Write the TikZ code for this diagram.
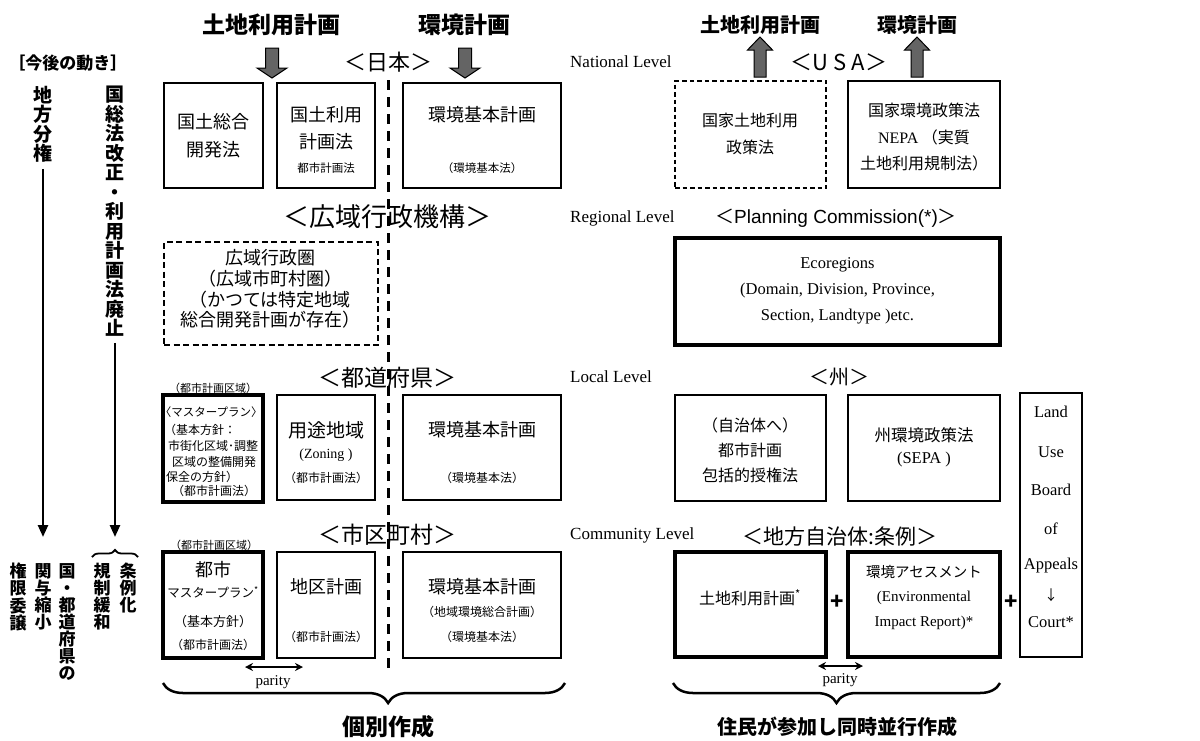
\documentclass[tikz,border=0pt]{standalone}
\usepackage{fontspec}
\setmainfont{Liberation Serif}
\newfontfamily\jp{Noto Sans CJK JP}
\newfontfamily\lsans{Liberation Sans}
\usetikzlibrary{arrows.meta,decorations.pathreplacing}
\definecolor{arrgray}{RGB}{100,100,100}
\newcommand\jpf[1]{\jp\mdseries\fontsize{#1}{#1}\selectfont}
\newcommand\jpb[1]{\jp\bfseries\fontsize{#1}{#1}\selectfont}
\newcommand\stf[1]{\rmfamily\fontsize{#1}{#1}\selectfont}
\tikzset{
  bx/.style={draw, line width=2.2pt, inner sep=0pt},
  tbx/.style={draw, line width=3.5pt, inner sep=0pt},
  dbx/.style={draw, line width=2.6pt, dash pattern=on 6pt off 3.5pt, inner sep=0pt},
  pbx/.style={draw, line width=2pt, dash pattern=on 4.5pt off 3pt, inner sep=0pt},
  jt/.style={font={\jpf{#1}}, inner sep=0pt},
  jb/.style={font={\jpb{#1}}, inner sep=0pt},
  st/.style={font={\stf{#1}}, inner sep=0pt},
  vt/.style={font={\jp\bfseries\fontsize{19}{19.5}\selectfont}, align=center, anchor=north, inner sep=0pt},
  vtb/.style={font={\jp\bfseries\fontsize{17}{17.1}\selectfont}, align=center, anchor=north, inner sep=0pt},
  varr/.style={line width=2.5pt, -{Triangle[width=10pt,length=12pt]}, shorten <=6pt},
  parr/.style={line width=1.8pt, {Stealth[length=8pt,width=8pt]}-{Stealth[length=8pt,width=8pt]}},
  garr/.style={fill=arrgray, draw=black, line width=1pt},
  brc/.style={decorate, line width=2.5pt},
  downarr/.pic={\draw[garr] (-6.5,48) -- (6.5,48) -- (6.5,68) -- (15,68) -- (0,78) -- (-15,68) -- (-6.5,68) -- cycle;},
  uparr/.pic={\draw[garr] (-6,77) -- (6,77) -- (6,50) -- (12.5,50) -- (0,37) -- (-12.5,50) -- (-6,50) -- cycle;}
}
\begin{document}
\begin{tikzpicture}[x=1pt,y=-1pt]
\useasboundingbox[fill=white] (0,0) rectangle (1200,740);

% ---------- headers ----------
\node[jb=23] (h1) at (271,25) {土地利用計画};
\node[jb=23] (h2) at (464,25) {環境計画};
\node[jb=20] (h3) at (760,25) {土地利用計画};
\node[jb=20] (h4) at (917,25) {環境計画};
\pic at (272,0) {downarr};
\pic at (465,0) {downarr};
\pic at (760,0) {uparr};
\pic at (917,0) {uparr};

% ---------- left column ----------
\node[jb=17] (ima) at (68,63) {［今後の動き］};
\node[vt] (v1) at (43,86) {地\\方\\分\\権};
\node[vt] (v2) at (115,86) {国\\総\\法\\改\\正\\・\\利\\用\\計\\画\\法\\廃\\止};
\coordinate (e1) at (43,537);
\coordinate (e2) at (115,537);
\draw[varr] (v1) -- (e1);
\draw[varr] (v2) -- (e2);
\coordinate (br1) at (92,557);
\coordinate (br2) at (138,557);
\draw[decorate, decoration={brace, amplitude=7pt}, line width=1.8pt] (br1) -- (br2);
\node[vtb] (b1) at (67,563) {国\\・\\都\\道\\府\\県\\の};
\node[vtb] (b2) at (43,563) {関\\与\\縮\\小};
\node[vtb] (b3) at (18,563) {権\\限\\委\\譲};
\node[vtb] (b4) at (128,563) {条\\例\\化};
\node[vtb] (b5) at (102,563) {規\\制\\緩\\和};

% ---------- Japan level titles ----------
\node[jt=22] (nihon) at (388,62) {＜日本＞};
\node[jt=26] (kouiki) at (387,217) {＜広域行政機構＞};
\node[jt=23] (todo) at (387,378) {＜都道府県＞};
\node[jt=23] (shiku) at (387,535) {＜市区町村＞};

% centre dashed line
\coordinate (d1) at (388,80);
\coordinate (d2) at (388,672);
\draw[line width=3pt, dash pattern=on 10pt off 7pt] (d1) -- (d2);

% ---------- Japan national ----------
\node[bx, minimum width=99pt, minimum height=105pt] (jA) at (213.5,135.5) {};
\node[jt=18] (jA1) at (213.5,122) {国土総合};
\node[jt=18] (jA2) at (213.5,150) {開発法};
\node[bx, minimum width=98pt, minimum height=105pt] (jB) at (326,135.5) {};
\node[jt=18] (jB1) at (326,115) {国土利用};
\node[jt=18] (jB2) at (326,142) {計画法};
\node[jt=11.5] (jB3) at (326,168) {都市計画法};
\node[bx, minimum width=158pt, minimum height=105pt] (jC) at (482,135.5) {};
\node[jt=18] (jC1) at (482,115) {環境基本計画};
\node[jt=11.5] (jC2) at (482,168) {（環境基本法）};

% ---------- Japan regional ----------
\node[dbx, minimum width=214pt, minimum height=103pt] (jD) at (271,293.5) {};
\node[inner sep=0pt, align=center, font={\jp\fontsize{18}{20.7}\selectfont}] (jD1) at (270,289) {広域行政圏\\（広域市町村圏）\\（かつては特定地域\\総合開発計画が存在）};

% ---------- Japan prefecture ----------
\node[jt=11] (ku1) at (213,388) {（都市計画区域）};
\node[tbx, minimum width=100pt, minimum height=107pt] (jE) at (213,448.5) {};
\node[jt=11.5] (jE1) at (214,412) {\hspace{-5.5pt}〈マスタープラン〉\hspace{-5.5pt}};
\node[jt=12, anchor=west] (jE2) at (164,430) {（基本方針：};
\node[jt=12] (jE3) at (213,446) {市街化区域･調整};
\node[jt=12] (jE4) at (214,462) {区域の整備開発};
\node[jt=12, anchor=west] (jE5) at (166,477) {保全の方針）};
\node[jt=12] (jE6) at (214,491) {（都市計画法）};
\node[bx, minimum width=98pt, minimum height=105pt] (jF) at (326,447.5) {};
\node[jt=19] (jF1) at (326,430) {用途地域};
\node[st=14] (jF2) at (326,455) {(Zoning )};
\node[jt=12] (jF3) at (326,478) {（都市計画法）};
\node[bx, minimum width=158pt, minimum height=105pt] (jG) at (482,447.5) {};
\node[jt=18] (jG1) at (482,430) {環境基本計画};
\node[jt=12] (jG2) at (482,478) {（環境基本法）};

% ---------- Japan municipal ----------
\node[jt=11] (ku2) at (214,545) {（都市計画区域）};
\node[tbx, minimum width=100pt, minimum height=106pt] (jH) at (213,605) {};
\node[jt=18] (jH1) at (213,570) {都市};
\node[jt=12.5] (jH2) at (213,592) {マスタープラン\textsuperscript{*}};
\node[jt=13] (jH3) at (213,622) {（基本方針）};
\node[jt=12] (jH4) at (213,645) {（都市計画法）};
\node[bx, line width=2.4pt, minimum width=98pt, minimum height=106pt] (jI) at (326,605) {};
\node[jt=18] (jI1) at (326,587) {地区計画};
\node[jt=12] (jI2) at (326,637) {（都市計画法）};
\node[bx, line width=2.4pt, minimum width=158pt, minimum height=106pt] (jJ) at (482,605) {};
\node[jt=18] (jJ1) at (482,587) {環境基本計画};
\node[jt=12] (jJ2) at (482,612) {（地域環境総合計画）};
\node[jt=12] (jJ3) at (482,637) {（環境基本法）};

\coordinate (pa1) at (245,667);
\coordinate (pa2) at (303,667);
\draw[parr] (pa1) -- (pa2);
\node[st=15] (par1) at (273,682) {parity};

\coordinate (bL1) at (163,683);
\coordinate (bL2) at (565,683);
\draw[brc, decoration={brace, amplitude=20pt, aspect=0.56, mirror}] (bL1) -- (bL2);
\node[jb=23] (kobetsu) at (388,727) {個別作成};

% ---------- level labels ----------
\node[st=17, anchor=west] (lv1) at (570,62) {National Level};
\node[st=17, anchor=west] (lv2) at (570,218) {Regional Level};
\node[st=17, anchor=west] (lv3) at (570,377) {Local Level};
\node[st=17, anchor=west] (lv4) at (570,535) {Community Level};

% ---------- USA titles ----------
\node[jt=22] (usa) at (839,62) {＜U S A＞};
\node[jt=19] (pc) at (836,218) {＜{\lsans Planning Commission(*)}＞};
\node[jt=20] (shu) at (839,377) {＜州＞};
\node[jt=21] (chiho) at (840,537) {＜地方自治体:条例＞};

% ---------- USA national ----------
\node[pbx, minimum width=151pt, minimum height=107pt] (uA) at (750.5,134.5) {};
\node[jt=16] (uA1) at (750,120) {国家土地利用};
\node[jt=16] (uA2) at (750,147) {政策法};
\node[bx, line width=2pt, minimum width=152pt, minimum height=107pt] (uB) at (924,134.5) {};
\node[jt=16] (uB1) at (924,110) {国家環境政策法};
\node[jt=16] (uB2) at (924,137) {{\rmfamily NEPA} （実質};
\node[jt=16] (uB3) at (924,163) {土地利用規制法）};

% ---------- USA regional ----------
\node[tbx, minimum width=325pt, minimum height=107pt] (uC) at (837.5,291.5) {};
\node[inner sep=0pt, align=center, font={\rmfamily\fontsize{16.5}{26}\selectfont}] (uC1) at (837.5,291) {Ecoregions\\(Domain, Division, Province,\\Section, Landtype )etc.};

% ---------- USA state ----------
\node[bx, line width=2pt, minimum width=151pt, minimum height=106pt] (uD) at (750.5,448) {};
\node[inner sep=0pt, align=center, font={\jp\fontsize{16}{25}\selectfont}] (uD1) at (750,450) {（自治体へ）\\都市計画\\包括的授権法};
\node[bx, line width=2pt, minimum width=152pt, minimum height=106pt] (uE) at (924,448) {};
\node[jt=16.5] (uE1) at (924,435) {州環境政策法};
\node[st=16.5] (uE2) at (924,460) {(SEPA )};

% ---------- USA community ----------
\node[tbx, line width=4pt, minimum width=151pt, minimum height=105pt] (uF) at (750.5,604.5) {};
\node[jt=16] (uF1) at (750,598) {土地利用計画\textsuperscript{*}};
\node[tbx, line width=4pt, minimum width=152pt, minimum height=105pt] (uG) at (924,604.5) {};
\node[jt=14.5] (uG1) at (924,572) {環境アセスメント};
\node[st=15] (uG2) at (924,598) {(Environmental};
\node[st=15] (uG3) at (924,623) {Impact Report)*};
\node[jb=22] (plus1) at (837,602) {+};
\node[jb=22] (plus2) at (1011,602) {+};

\node[bx, line width=2pt, minimum width=62pt, minimum height=264pt] (uH) at (1051,525) {};
\node[st=16.5] (uH1) at (1051,412) {Land};
\node[st=16.5] (uH2) at (1051,452) {Use};
\node[st=16.5] (uH3) at (1051,490) {Board};
\node[st=16.5] (uH4) at (1051,529) {of};
\node[st=16.5] (uH5) at (1051,566) {Appeals};
\node[jt=14] (uH6) at (1051,595) {↓};
\node[st=16.5] (uH7) at (1051,622) {Court*};

\coordinate (pb1) at (818,666);
\coordinate (pb2) at (863,666);
\draw[parr] (pb1) -- (pb2);
\node[st=15] (par2) at (840,680) {parity};

\coordinate (bR1) at (673,683);
\coordinate (bR2) at (1000,683);
\draw[brc, decoration={brace, amplitude=20pt, mirror}] (bR1) -- (bR2);
\node[jb=20] (jumin) at (837,727) {住民が参加し同時並行作成};
\end{tikzpicture}
\end{document}
